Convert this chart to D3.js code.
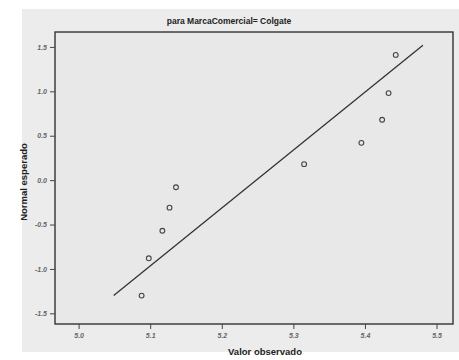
<!DOCTYPE html>
<html>
<head>
<meta charset="utf-8">
<script src="https://cdn.jsdelivr.net/npm/d3@7"></script>
<style>
  body { margin: 0; background: #ffffff; }
  svg { display: block; }
</style>
</head>
<body>
<div id="chart"></div>
<script>
// observed values (x) and expected normal values (y)
const observed = [5.088, 5.098, 5.117, 5.127, 5.136, 5.315, 5.395, 5.424, 5.433, 5.443];
const expected = [-1.30, -0.88, -0.57, -0.31, -0.08, 0.18, 0.42, 0.68, 0.98, 1.41];

// reference line end points
const lineX = [5.049, 5.481];
const lineY = [-1.30, 1.52];

const xTicks = [5.0, 5.1, 5.2, 5.3, 5.4, 5.5];
const yTicks = [-1.5, -1.0, -0.5, 0.0, 0.5, 1.0, 1.5];

const title = "para MarcaComercial= Colgate";
const xTitle = "Valor observado";
const yTitle = "Normal esperado";

const W = 459, H = 360;
const margin = {top: 32, right: 6, bottom: 36, left: 55};
const width = W - margin.left - margin.right,
    height = H - margin.top - margin.bottom;

const svg = d3.select("#chart").append("svg")
    .attr("width", W)
    .attr("height", H);

// scanned paper
svg.append("rect")
    .attr("x", 22).attr("y", 9)
    .attr("width", W - 22).attr("height", 343)
    .attr("fill", "#ececec");

const g = svg.append("g")
    .attr("transform", `translate(${margin.left},${margin.top})`);

// scales
const x = d3.scaleLinear()
    .domain([4.967, 5.523])
    .range([0, width]);

const y = d3.scaleLinear()
    .domain([-1.62, 1.668])
    .range([height, 0]);

// plot area
g.append("rect")
    .attr("width", width)
    .attr("height", height)
    .attr("fill", "#e8e8e8")
    .attr("stroke", "#333")
    .attr("stroke-width", 1.4);

// SPSS style: plain hyphen for negatives
const fmt = d => d3.format(".1f")(d).replace("\u2212", "-");

// axes
const xAxis = d3.axisBottom(x)
    .tickValues(xTicks)
    .tickFormat(fmt)
    .tickSize(5)
    .tickSizeOuter(0);

const yAxis = d3.axisLeft(y)
    .tickValues(yTicks)
    .tickFormat(fmt)
    .tickSize(5)
    .tickSizeOuter(0);

const xAxisGroup = g.append("g")
    .attr("transform", `translate(0,${height})`)
    .call(xAxis);

const yAxisGroup = g.append("g")
    .call(yAxis);

[xAxisGroup, yAxisGroup].forEach(ax => {
    ax.select(".domain").remove();
    ax.selectAll(".tick line").attr("stroke", "#444");
    ax.selectAll(".tick text")
        .attr("font-family", "Liberation Sans, Arial, sans-serif")
        .attr("font-size", "7px")
        .attr("font-style", "italic")
        .attr("font-weight", "bold")
        .attr("fill", "#666");
});
xAxisGroup.selectAll(".tick text").attr("dy", "0.8em");

// reference line
g.append("line")
    .attr("x1", x(lineX[0]))
    .attr("y1", y(lineY[0]))
    .attr("x2", x(lineX[1]))
    .attr("y2", y(lineY[1]))
    .attr("stroke", "#333")
    .attr("stroke-width", 1.3);

// points
g.selectAll(".pt")
    .data(observed.map((d, i) => ({x: d, y: expected[i]})))
    .enter()
    .append("circle")
    .attr("class", "pt")
    .attr("cx", d => x(d.x))
    .attr("cy", d => y(d.y))
    .attr("r", 2.4)
    .attr("fill", "none")
    .attr("stroke", "#444")
    .attr("stroke-width", 1.1);

// titles
svg.append("text")
    .attr("x", 229)
    .attr("y", 24)
    .attr("text-anchor", "middle")
    .attr("font-family", "Liberation Sans, Arial, sans-serif")
    .attr("font-size", "8.5px")
    .attr("font-weight", "bold")
    .attr("fill", "#222")
    .text(title);

svg.append("text")
    .attr("x", 265)
    .attr("y", 355)
    .attr("text-anchor", "middle")
    .attr("font-family", "Liberation Sans, Arial, sans-serif")
    .attr("font-size", "9.5px")
    .attr("font-weight", "bold")
    .attr("fill", "#222")
    .text(xTitle);

svg.append("text")
    .attr("transform", "translate(27,182) rotate(-90)")
    .attr("text-anchor", "middle")
    .attr("font-family", "Liberation Sans, Arial, sans-serif")
    .attr("font-size", "9.5px")
    .attr("font-weight", "bold")
    .attr("fill", "#222")
    .text(yTitle);
</script>
</body>
</html>
